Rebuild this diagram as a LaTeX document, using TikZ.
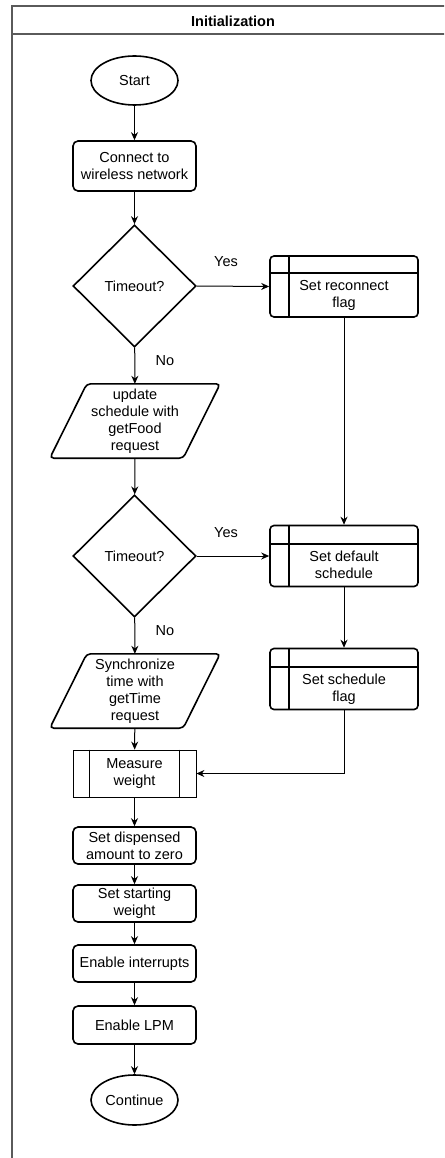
\documentclass[tikz,border=0pt]{standalone}
\usepackage{fontspec}
\setmainfont{Liberation Sans}
\usetikzlibrary{shapes.geometric,arrows.meta,calc}
\definecolor{framecol}{RGB}{90,90,90}
\tikzset{
  txt/.style={align=center, font=\fontsize{14.5}{17}\selectfont, inner sep=0pt},
  base/.style={txt, draw, line width=1.6pt},
  term/.style={base, ellipse, minimum width=87pt, minimum height=49pt},
  proc/.style={base, rectangle, rounded corners=5pt, minimum width=123pt},
  dec/.style={base, diamond, minimum width=123pt, minimum height=122pt},
  iobox/.style={txt, rectangle, minimum width=170pt, minimum height=74pt},
  para/.style={draw, line width=1.6pt, rounded corners=4pt},
  subbox/.style={draw, line width=1.6pt, rounded corners=4pt, rectangle, minimum width=148pt, minimum height=61pt, inner sep=0pt},
  inner/.style={line width=1.6pt},
  arr/.style={line width=1pt, -{Stealth[length=8pt,width=7pt]}},
  plain/.style={line width=1pt},
  lbl/.style={txt}
}
\begin{document}
\begin{tikzpicture}[x=1pt,y=-1pt]
\useasboundingbox (0,0) rectangle (444,1158);
\clip (0,0) rectangle (444,1158);
% frame
\draw[framecol, line width=1.3pt] (460,6) -- (12,6) -- (12,1175);
\draw[framecol, line width=1.3pt] (12,34) -- (460,34);
\node[txt, font=\fontsize{14.5}{17}\selectfont\bfseries] (title) at (233,21) {Initialization};
% left column
\node[term] (start) at (134.5,80.5) {Start};
\node[proc, minimum height=50pt] (connect) at (134.5,166) {Connect to\\wireless network};
\node[dec] (d1) at (134.5,286) {Timeout?};
\node[iobox] (p1) at (135,421) {update\\schedule with\\getFood\\request};
\draw[para] ($(p1.north west)+(37,0)$) -- (p1.north east) -- ($(p1.south east)+(-37,0)$) -- (p1.south west) -- cycle;
\node[dec] (d2) at (134.5,556) {Timeout?};
\node[iobox] (p2) at (135,691) {Synchronize\\time with\\getTime\\request};
\draw[para] ($(p2.north west)+(37,0)$) -- (p2.north east) -- ($(p2.south east)+(-37,0)$) -- (p2.south west) -- cycle;
\node[txt, draw, line width=0.8pt, rectangle, minimum width=123pt, minimum height=47pt] (measure) at (134.5,773.5) {Measure\\weight};
\draw[line width=0.8pt] ($(measure.north west)+(17,0)$) -- ($(measure.south west)+(17,0)$);
\draw[line width=0.8pt] ($(measure.north east)+(-17,0)$) -- ($(measure.south east)+(-17,0)$);
\node[proc, minimum height=37pt] (disp) at (134.5,845.5) {Set dispensed\\amount to zero};
\node[proc, minimum height=37pt] (sweight) at (134.5,903.5) {Set starting\\weight};
\node[proc, minimum height=37pt] (intr) at (134.5,963.5) {Enable interrupts};
\node[proc, minimum height=38pt] (lpm) at (134.5,1025) {Enable LPM};
\node[term, minimum height=50pt] (cont) at (134.5,1100) {Continue};
% right column
\node[subbox] (r1) at (344,286.5) {};
\draw[inner] ($(r1.north west)+(20,0)$) -- ($(r1.south west)+(20,0)$);
\draw[inner] ($(r1.north west)+(0,18)$) -- ($(r1.north east)+(0,18)$);
\node[txt] (r1t) at ($(r1)+(0,9)$) {Set reconnect\\flag};
\node[subbox] (r2) at (344,556) {};
\draw[inner] ($(r2.north west)+(20,0)$) -- ($(r2.south west)+(20,0)$);
\draw[inner] ($(r2.north west)+(0,19)$) -- ($(r2.north east)+(0,19)$);
\node[txt] (r2t) at ($(r2)+(0,9)$) {Set default\\schedule};
\node[subbox] (r3) at (344,679) {};
\draw[inner] ($(r3.north west)+(20,0)$) -- ($(r3.south west)+(20,0)$);
\draw[inner] ($(r3.north west)+(0,19)$) -- ($(r3.north east)+(0,19)$);
\node[txt] (r3t) at ($(r3)+(0,10)$) {Set schedule\\flag};
% connectors
\draw[arr] (start) -- (connect);
\draw[arr] (connect) -- (d1);
\draw[arr] (d1) -- (p1);
\draw[arr] (p1) -- (d2);
\draw[arr] (d2) -- (p2);
\draw[arr] (p2) -- (measure);
\draw[arr] (measure) -- (disp);
\draw[arr] (disp) -- (sweight);
\draw[arr] (sweight) -- (intr);
\draw[arr] (intr) -- (lpm);
\draw[arr] (lpm) -- (cont);
\draw[arr] (d1.east) -- (r1.west);
\draw[arr] (d2.east) -- (r2.west);
\draw[arr] (r1.south) -- (r2.north);
\draw[arr] (r2.south) -- (r3.north);
\draw[arr] (r3.south) |- (measure.east);
% labels
\node[lbl] (yes1) at (226,262) {Yes};
\node[lbl] (yes2) at (226,533) {Yes};
\node[lbl] (no1) at (165,361) {No};
\node[lbl] (no2) at (165,631) {No};
\end{tikzpicture}
\end{document}
